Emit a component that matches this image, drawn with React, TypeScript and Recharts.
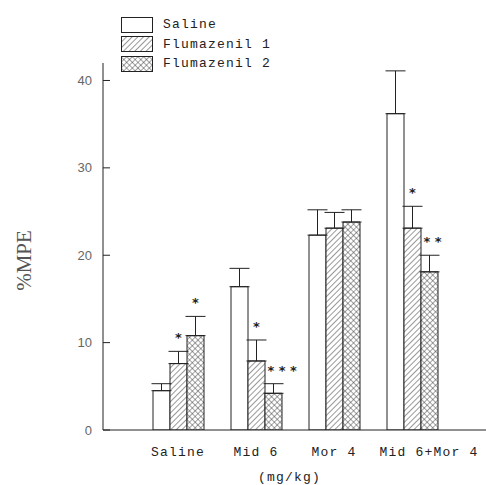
import React from 'react'
import { BarChart, Bar, XAxis, YAxis, ErrorBar, LabelList, Legend, Label } from 'recharts'

const categories = ['Saline', 'Mid 6', 'Mor 4', 'Mid 6+Mor 4']
const salineMean = [4.5, 16.4, 22.3, 36.2]
const salineSem = [0.8, 2.1, 2.9, 4.9]
const flum1Mean = [7.6, 7.9, 23.1, 23.1]
const flum1Sem = [1.4, 2.4, 1.8, 2.5]
const flum2Mean = [10.8, 4.2, 23.8, 18.1]
const flum2Sem = [2.2, 1.1, 1.4, 1.9]
const flum1Sig = ['*', '*', '', '*']
const flum2Sig = ['*', '***', '', '**']
const yTicks = [0, 10, 20, 30, 40]

const INK = '#222'
const TYPE_FONT = '"Liberation Mono", "DejaVu Sans Mono", monospace'

const data = categories.map((name, i) => ({
  name,
  idx: i,
  saline: salineMean[i],
  salineErr: [0, salineSem[i]],
  flum1: flum1Mean[i],
  flum1Err: [0, flum1Sem[i]],
  flum2: flum2Mean[i],
  flum2Err: [0, flum2Sem[i]],
}))

const legendItems = [
  { label: 'Saline', fill: '#fff' },
  { label: 'Flumazenil 1', fill: 'url(#hatch)' },
  { label: 'Flumazenil 2', fill: 'url(#cross)' },
]

// asterisks sit above the error cap; cap height derived from the bar's own px/unit
function starLabel(sig: string[], mean: number[], sem: number[]) {
  return (props: any) => {
    const { x, y, width, height, value } = props
    const i = typeof props.index === 'number' ? props.index : value
    const mark = sig[i]
    if (!mark) return null
    const perUnit = height / mean[i]
    const capY = y - sem[i] * perUnit
    const cx = x + width / 2
    const multi = mark.length > 1
    return (
      <text
        x={multi ? cx - 6 : cx}
        y={capY - 16 + 7}
        textAnchor={multi ? 'start' : 'middle'}
        fontFamily='"DejaVu Sans", sans-serif'
        fontWeight="bold"
        fontSize={13}
        letterSpacing={multi ? 4.5 : 0}
        fill={INK}
      >
        {mark}
      </text>
    )
  }
}

function CategoryTick(props: any) {
  const { x, y, payload } = props
  const dx = payload.value.length > 8 ? 17 : 0
  return (
    <text
      x={x + dx}
      y={y + 26}
      textAnchor="middle"
      fontFamily={TYPE_FONT}
      fontSize={13}
      letterSpacing={1.2}
      fill={INK}
    >
      {payload.value}
    </text>
  )
}

function LegendBox() {
  return (
    <div style={{ display: 'flex', flexDirection: 'column', gap: 4 }}>
      {legendItems.map((item) => (
        <div key={item.label} style={{ display: 'flex', alignItems: 'center', height: 15.5 }}>
          <svg width={32} height={16} style={{ display: 'block' }}>
            <rect x={0.5} y={0.5} width={31} height={15} fill={item.fill} stroke={INK} strokeWidth={1} />
          </svg>
          <span
            style={{
              marginLeft: 10,
              fontFamily: TYPE_FONT,
              fontSize: 13,
              letterSpacing: 1.2,
              color: INK,
              lineHeight: '15px',
            }}
          >
            {item.label}
          </span>
        </div>
      ))}
    </div>
  )
}

export default function App() {
  return (
    <div style={{ position: 'absolute', left: 0, top: 0, background: '#fff' }}>
      <BarChart
        width={486}
        height={485}
        data={data}
        margin={{ top: 63, right: 0, bottom: 0, left: 0 }}
        barSize={17}
        barGap={0}
      >
        <defs>
          <pattern id="hatch" width={4} height={4} patternUnits="userSpaceOnUse" patternTransform="rotate(45)">
            <rect width={4} height={4} fill="#fff" />
            <line x1={0} y1={0} x2={0} y2={4} stroke="#333" strokeWidth={1} />
          </pattern>
          <pattern id="cross" width={4} height={4} patternUnits="userSpaceOnUse" patternTransform="rotate(45)">
            <rect width={4} height={4} fill="#fff" />
            <line x1={0} y1={0} x2={0} y2={4} stroke="#333" strokeWidth={0.9} />
            <line x1={0} y1={0} x2={4} y2={0} stroke="#333" strokeWidth={0.9} />
          </pattern>
        </defs>
        <XAxis
          dataKey="name"
          height={55}
          padding={{ left: 36, right: 35 }}
          axisLine={{ stroke: INK, strokeWidth: 1 }}
          tickLine={false}
          tickSize={0}
          tickMargin={0}
          tick={<CategoryTick />}
          interval={0}
        >
          <Label
            content={(p: any) => {
              const vb = p.viewBox
              return (
                <text
                  x={vb.x + vb.width / 2 - 5}
                  y={vb.y + 51}
                  textAnchor="middle"
                  fontFamily={TYPE_FONT}
                  fontSize={13}
                  letterSpacing={1.2}
                  fill={INK}
                >
                  (mg/kg)
                </text>
              )
            }}
          />
        </XAxis>
        <YAxis
          width={103}
          domain={[0, 42]}
          ticks={yTicks}
          allowDataOverflow
          tickSize={-7}
          tickMargin={18}
          axisLine={{ stroke: INK, strokeWidth: 1 }}
          tickLine={{ stroke: INK, strokeWidth: 1 }}
          tick={{ fontFamily: '"Liberation Sans", Arial, sans-serif', fontSize: 13, fill: '#666' }}
        >
          <Label
            content={(p: any) => {
              const vb = p.viewBox
              const cx = vb.x + 24
              const cy = vb.y + vb.height / 2 + 14
              return (
                <text
                  x={cx}
                  y={cy}
                  transform={`rotate(-90, ${cx}, ${cy})`}
                  textAnchor="middle"
                  dominantBaseline="central"
                  fontFamily='"Liberation Serif", "DejaVu Serif", serif'
                  fontSize={21}
                  fill="#555"
                >
                  %MPE
                </text>
              )
            }}
          />
        </YAxis>
        {/* horizontal + middle + center keeps Recharts from reserving room for the legend */}
        <Legend
          layout="horizontal"
          verticalAlign="middle"
          align="center"
          content={<LegendBox />}
          wrapperStyle={{ position: 'absolute', top: 17, left: 121, width: 'auto' }}
        />
        <Bar dataKey="saline" name="Saline" fill="#fff" stroke={INK} strokeWidth={1} isAnimationActive={false}>
          <ErrorBar dataKey="salineErr" width={10} stroke={INK} strokeWidth={1} direction="y" />
        </Bar>
        <Bar dataKey="flum1" name="Flumazenil 1" fill="url(#hatch)" stroke={INK} strokeWidth={1} isAnimationActive={false}>
          <ErrorBar dataKey="flum1Err" width={10} stroke={INK} strokeWidth={1} direction="y" />
          <LabelList dataKey="idx" content={starLabel(flum1Sig, flum1Mean, flum1Sem)} />
        </Bar>
        <Bar dataKey="flum2" name="Flumazenil 2" fill="url(#cross)" stroke={INK} strokeWidth={1} isAnimationActive={false}>
          <ErrorBar dataKey="flum2Err" width={10} stroke={INK} strokeWidth={1} direction="y" />
          <LabelList dataKey="idx" content={starLabel(flum2Sig, flum2Mean, flum2Sem)} />
        </Bar>
      </BarChart>
    </div>
  )
}
